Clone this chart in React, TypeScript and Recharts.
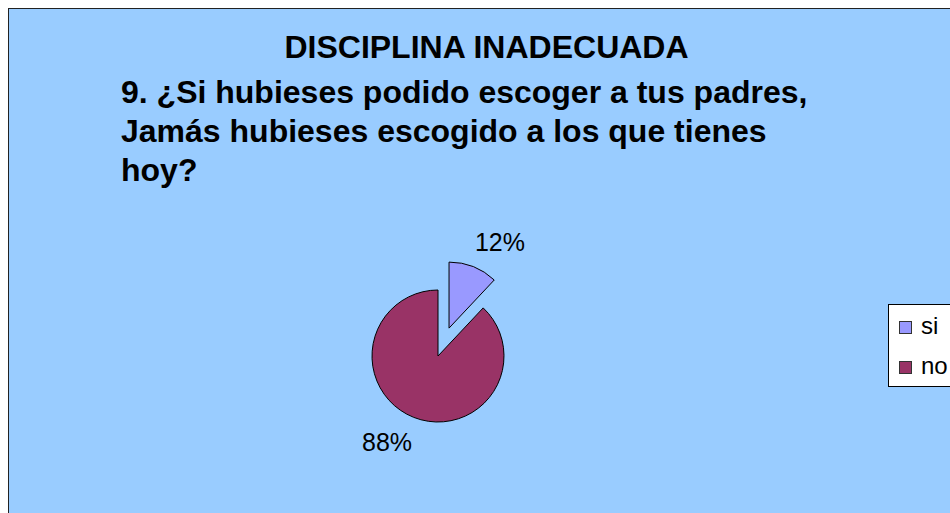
import React from "react"
import { PieChart, Pie, Cell, Legend } from "recharts"

const categories = ["si", "no"]
const values = [12, 88]
const colors = ["#9999FF", "#993366"]

const titleText = "DISCIPLINA INADECUADA"
const questionLines = [
  "9. ¿Si hubieses podido escoger a tus padres,",
  "Jamás hubieses escogido a los que tienes",
  "hoy?",
]

const data = categories.map((name, i) => ({ name, value: values[i] }))

const FONT = "'Liberation Sans', Arial, Helvetica, sans-serif"
const RAD = Math.PI / 180

// main pie geometry (relative to the chart's 5px margin), exploded slice pulled out along its mid angle
const CX = 424
const CY = 342
const R = 66
const EXPLODE = 30
const total = values.reduce((a, b) => a + b, 0)
const siMid = 90 - (360 * values[0]) / total / 2
const CX2 = CX + EXPLODE * Math.cos(siMid * RAD)
const CY2 = CY - EXPLODE * Math.sin(siMid * RAD)

const makeLabel = (only: number) => (props: any) => {
  const { cx, cy, midAngle, percent, index } = props
  if (index !== only) return null
  const a = (midAngle - 9) * RAD
  const x = cx + 100 * Math.cos(a)
  const y = cy - 100 * Math.sin(a)
  return (
    <text
      x={x}
      y={y}
      textAnchor="middle"
      dominantBaseline="central"
      fontFamily={FONT}
      fontSize={25}
      fill="#000"
    >
      {`${Math.round(percent * 100)}%`}
    </text>
  )
}

const LegendBox = () => (
  <div
    style={{
      position: "relative",
      width: 100,
      height: 81,
      border: "1px solid #000",
      background: "#fff",
      fontFamily: FONT,
      fontSize: 24,
    }}
  >
    {categories.map((c, i) => (
      <React.Fragment key={c}>
        <div
          style={{
            position: "absolute",
            left: 10,
            top: 16 + i * 40,
            width: 11,
            height: 11,
            background: colors[i],
            border: "1px solid #333",
          }}
        />
        <div
          style={{
            position: "absolute",
            left: 32,
            top: 8 + i * 40,
            lineHeight: "26px",
            color: "#000",
          }}
        >
          {c}
        </div>
      </React.Fragment>
    ))}
  </div>
)

export default function App() {
  return (
    <div
      style={{
        position: "fixed",
        left: 8,
        top: 8,
        right: 0,
        bottom: 0,
        background: "#99CCFF",
        borderTop: "1px solid #222",
        borderLeft: "1px solid #222",
        overflow: "hidden",
      }}
    >
      <PieChart width={941} height={504}>
        <Pie
          data={data}
          dataKey="value"
          nameKey="name"
          cx={CX}
          cy={CY}
          outerRadius={R}
          startAngle={90}
          endAngle={-270}
          label={makeLabel(1)}
          labelLine={false}
          isAnimationActive={false}
        >
          {data.map((d, i) => (
            <Cell
              key={d.name}
              fill={i === 1 ? colors[i] : "transparent"}
              stroke={i === 1 ? "#000" : "none"}
              strokeWidth={1}
            />
          ))}
        </Pie>
        <Pie
          data={data}
          dataKey="value"
          nameKey="name"
          cx={CX2}
          cy={CY2}
          outerRadius={R}
          startAngle={90}
          endAngle={-270}
          label={makeLabel(0)}
          labelLine={false}
          isAnimationActive={false}
        >
          {data.map((d, i) => (
            <Cell
              key={d.name}
              fill={i === 0 ? colors[i] : "transparent"}
              stroke={i === 0 ? "#000" : "none"}
              strokeWidth={1}
            />
          ))}
        </Pie>
        <Legend
          content={<LegendBox />}
          wrapperStyle={{ position: "absolute", left: 879, top: 295, width: 100 }}
        />
      </PieChart>
      <svg
        width={941}
        height={504}
        style={{ position: "absolute", left: 0, top: 0, pointerEvents: "none" }}
      >
        <text
          x={477.5}
          y={48.7}
          textAnchor="middle"
          fontFamily={FONT}
          fontWeight="bold"
          fontSize={32}
          fill="#000"
        >
          {titleText}
        </text>
        {questionLines.map((line, i) => (
          <text
            key={i}
            x={112}
            y={94.3 + i * 39}
            fontFamily={FONT}
            fontWeight="bold"
            fontSize={32}
            fill="#000"
          >
            {line}
          </text>
        ))}
      </svg>
    </div>
  )
}
